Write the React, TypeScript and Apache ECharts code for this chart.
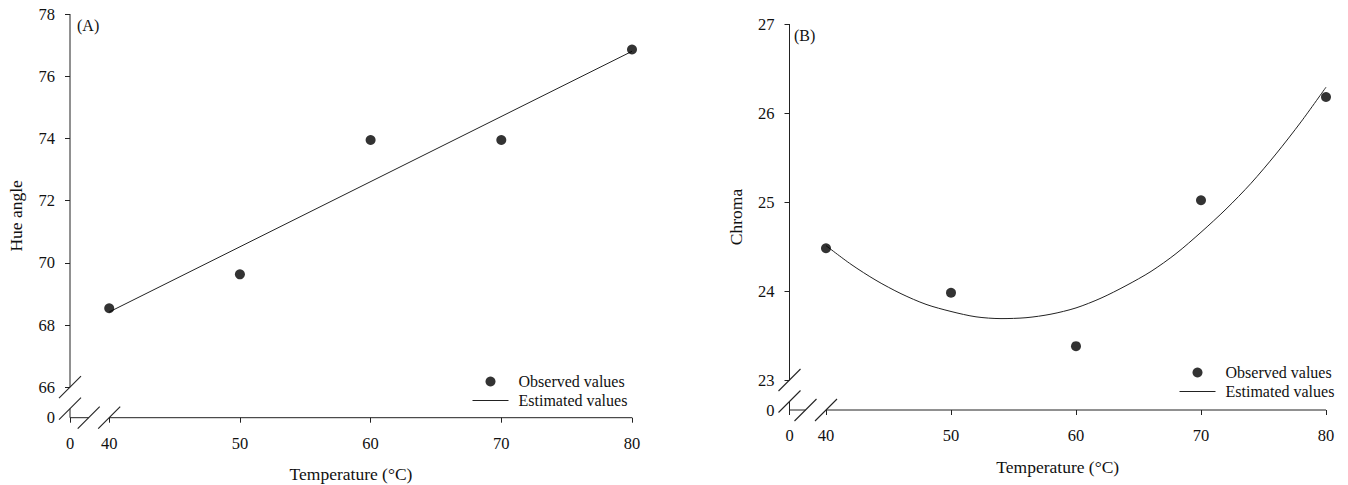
import React, { useEffect, useRef } from "react";
import * as echarts from "echarts";

// Data
const temperatures = [40, 50, 60, 70, 80];
const xTickLabels = [40, 50, 60, 70, 80];

const hueObserved = [68.54, 69.63, 73.95, 73.95, 76.86];
const hueLineTemps = [40, 80];
const hueEstimated = [68.42, 76.8];
const hueYTicks = [66, 68, 70, 72, 74, 76, 78];

const chromaObserved = [24.48, 23.98, 23.38, 25.02, 26.18];
const chromaCurveTemps = [40, 42, 44, 46, 48, 50, 52, 54, 56, 58, 60, 62, 64, 66, 68, 70, 72, 74, 76, 78, 80];
const chromaEstimated = [
  24.51, 24.3, 24.12, 23.97, 23.85, 23.77, 23.71, 23.69, 23.7, 23.74, 23.81,
  23.92, 24.06, 24.22, 24.42, 24.66, 24.92, 25.21, 25.54, 25.9, 26.29,
];
const chromaYTicks = [23, 24, 25, 26, 27];

const FONT = "Liberation Serif";
const INK = "#111";
const AXIS = "#222";

export default function App() {
  const ref = useRef<HTMLDivElement>(null);

  useEffect(() => {
    if (!ref.current) return;
    const chart = echarts.init(ref.current, null, { renderer: "svg" });

    const panels = [
      {
        grid: { left: 70, top: 14, width: 562, height: 403.7 },
        xMin: 37,
        yMin: 65.02,
        yMax: 78,
        yTicks: hueYTicks,
        yName: "Hue angle",
        xNameGap: 47,
        yNameGap: 45,
        tag: "(A)",
        tagPos: [77, 17],
        legend: { left: 472, top: 373.5 },
        observed: hueObserved,
        estX: hueLineTemps,
        estY: hueEstimated,
        smooth: false,
      },
      {
        grid: { left: 789.5, top: 24, width: 536.5, height: 386 },
        xMin: 37.08,
        yMin: 22.663,
        yMax: 27,
        yTicks: chromaYTicks,
        yName: "Chroma",
        xNameGap: 47.5,
        yNameGap: 45,
        tag: "(B)",
        tagPos: [794, 27],
        legend: { left: 1179, top: 364.5 },
        observed: chromaObserved,
        estX: chromaCurveTemps,
        estY: chromaEstimated,
        smooth: 0.3,
      },
    ];

    const textBase = { fontFamily: FONT, fontSize: 16, color: INK };
    const tickText = { fontFamily: FONT, fontSize: 16.5, color: INK };
    const nameText = { fontFamily: FONT, fontSize: 17.5, color: INK };

    const option: any = {
      animation: false,
      backgroundColor: "#fff",
      grid: panels.map((p) => ({ ...p.grid, containLabel: false, outerBoundsMode: "none" })),
      xAxis: panels.map((p, i) => ({
        type: "value",
        gridIndex: i,
        min: p.xMin,
        max: 80,
        axisLine: { show: false },
        splitLine: { show: false },
        axisTick: {
          show: true,
          length: 5,
          customValues: [p.xMin, ...xTickLabels],
          lineStyle: { color: AXIS, width: 1 },
        },
        axisLabel: {
          ...tickText,
          margin: 17,
          customValues: [p.xMin, ...xTickLabels],
          formatter: (v: number) => (v < 39 ? "0" : String(Math.round(v))),
        },
        name: "Temperature (°C)",
        nameLocation: "middle",
        nameGap: p.xNameGap,
        nameTextStyle: { ...nameText },
      })),
      yAxis: panels.map((p, i) => ({
        type: "value",
        gridIndex: i,
        min: p.yMin,
        max: p.yMax,
        axisLine: { show: false },
        splitLine: { show: false },
        axisTick: {
          show: true,
          length: 5,
          customValues: p.yTicks,
          lineStyle: { color: AXIS, width: 1 },
        },
        axisLabel: {
          ...tickText,
          margin: 15,
          customValues: [p.yMin, ...p.yTicks],
          formatter: (v: number) => (v < p.yTicks[0] - 0.01 ? "0" : String(Math.round(v))),
        },
        name: p.yName,
        nameLocation: "middle",
        nameRotate: 90,
        nameGap: p.yNameGap,
        nameTextStyle: { ...nameText },
      })),
      legend: panels.map((p) => ({
        left: p.legend.left,
        top: p.legend.top,
        orient: "vertical",
        padding: 0,
        itemWidth: 36,
        itemHeight: 10,
        itemGap: 3,
        selectedMode: false,
        textStyle: { ...textBase, padding: [0, 0, 0, 5] },
        data: [
          "Observed values",
          {
            name: "Estimated values",
            itemStyle: { color: "rgba(0,0,0,0)", borderColor: "rgba(0,0,0,0)", borderWidth: 0, opacity: 0 },
            lineStyle: { color: AXIS, width: 1, opacity: 1 },
          },
        ],
      })),
      series: panels.flatMap((p, i) => [
        {
          name: "Observed values",
          type: "scatter",
          xAxisIndex: i,
          yAxisIndex: i,
          symbol: "circle",
          symbolSize: 10,
          itemStyle: { color: "#000" },
          data: temperatures.map((t, k) => [t, p.observed[k]]),
          z: 3,
        },
        {
          name: "Estimated values",
          type: "line",
          xAxisIndex: i,
          yAxisIndex: i,
          symbol: "none",
          smooth: p.smooth,
          lineStyle: { color: AXIS, width: 1 },
          itemStyle: { color: AXIS },
          data: p.estX.map((t, k) => [t, p.estY[k]]),
          z: 2,
        },
      ]),
    };

    chart.setOption(option);

    // Broken axes drawn from the axes' own pixel mapping
    const graphics: any[] = [];
    const seg = (x1: number, y1: number, x2: number, y2: number, w = 1) => ({
      type: "line",
      silent: true,
      shape: { x1, y1, x2, y2 },
      style: { stroke: AXIS, lineWidth: w },
      z: 10,
    });
    const slash = (cx: number, cy: number) => seg(cx - 11, cy + 11, cx + 11, cy - 11, 1.1);

    panels.forEach((p, i) => {
      const toPx = (x: number, y: number) =>
        chart.convertToPixel({ gridIndex: i } as any, [x, y]) as number[];
      const o = toPx(p.xMin, p.yMin);
      const top = toPx(p.xMin, p.yMax);
      const yb = toPx(p.xMin, p.yTicks[0]);
      const xb = toPx(xTickLabels[0], p.yMin);
      const right = toPx(80, p.yMin);
      const s1 = yb[1];
      const s2 = yb[1] + 21.5;
      const s4 = xb[0];
      const s3 = xb[0] - 20.5;
      graphics.push(seg(o[0], top[1], o[0], s1));
      graphics.push(seg(o[0], s2, o[0], o[1]));
      graphics.push(seg(o[0], o[1], s3, o[1]));
      graphics.push(seg(s4, o[1], right[0], o[1]));
      graphics.push(slash(o[0], s1));
      graphics.push(slash(o[0], s2));
      graphics.push(slash(s3, o[1]));
      graphics.push(slash(s4, o[1]));
      graphics.push({
        type: "text",
        silent: true,
        x: p.tagPos[0],
        y: p.tagPos[1],
        style: { text: p.tag, font: `16px "${FONT}"`, fill: INK },
      });
    });

    chart.setOption({ graphic: graphics });

    return () => chart.dispose();
  }, []);

  return (
    <div
      ref={ref}
      style={{ position: "fixed", left: 0, top: 0, width: 1348, height: 485, background: "#fff" }}
    />
  );
}
